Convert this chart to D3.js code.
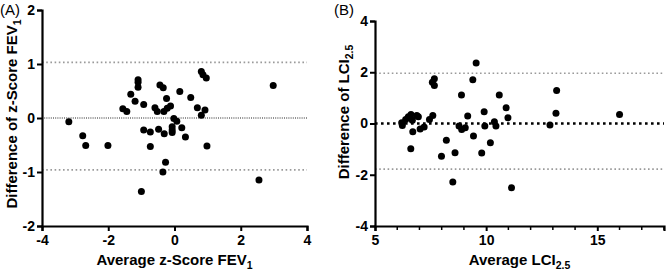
<!DOCTYPE html>
<html>
<head>
<meta charset="utf-8">
<script src="https://cdn.jsdelivr.net/npm/d3@7"></script>
<style>
  body { margin: 0; background: #fff; }
  svg { display: block; font-family: "Liberation Sans", Arial, sans-serif; }
  .tick text { font-size: 14px; font-weight: bold; fill: #000; }
  .axis-title { font-size: 15px; font-weight: bold; fill: #000; }
  .panel-tag { font-size: 15px; fill: #000; }
</style>
</head>
<body>
<script>
// Panel A: z-Score FEV1 (average, difference)
var fevAvg = [-3.19, -2.77, -2.68, -2.01, -1.56, -1.44, -1.32, -1.19, -1.10, -1.10, -1.10, -0.93,
  -0.93, -0.73, -0.73, -0.59, -0.52, -0.48, -0.44, -0.34, -0.31, -0.24, -0.32, -0.22, -0.12,
  -0.02, 0.07, -0.07, -0.07, -0.07, 0.16, 0.22, 0.33, 0.49, 0.69, 0.81, 0.86, 0.96, 0.81, 0.92,
  0.98, -0.27, -0.35, -1.00, 2.55, 2.98];
var fevDiff = [-0.07, -0.33, -0.51, -0.51, 0.17, 0.12, 0.44, 0.31, 0.71, 0.66, 0.57, 0.25,
  -0.22, -0.26, -0.53, 0.19, 0.12, -0.21, 0.61, 0.56, -0.29, 0.36, 0.12, 0.18, 0.22,
  -0.01, -0.06, -0.16, -0.22, -0.27, 0.49, -0.18, -0.35, 0.38, 0.19, 0.86, 0.80, 0.74, 0.05, 0.15,
  -0.52, -0.82, -1.00, -1.36, -1.15, 0.60];
var fevLimits = [1.03, 0, -0.96];
var fevXTicks = [-4, -2, 0, 2, 4];
var fevYTicks = [-2, -1, 0, 1, 2];

// Panel B: LCI2.5 (average, difference)
var lciAvg = [6.20, 6.23, 6.38, 6.50, 6.62, 6.68, 6.88, 6.95, 6.70, 7.03, 7.21, 7.45, 7.60,
  7.67, 7.58, 7.67, 6.61, 8.21, 7.99, 8.60, 8.50, 8.89, 8.78, 8.90, 9.06, 9.17, 9.40, 9.55,
  9.43, 9.80, 9.91, 9.94, 10.19, 10.37, 10.44, 10.59, 10.90, 10.98, 11.14, 12.87, 13.14, 13.17, 16.0];
var lciDiff = [0.03, -0.08, 0.16, 0.26, 0.35, 0.13, 0.31, 0.26, -0.32, -0.21, -0.14, 0.16, 0.31,
  1.75, 1.61, 1.48, -0.99, -0.65, -1.28, -1.14, -2.28, 1.11, -0.10, -0.23, -0.17, 0.29, 1.71, 2.36,
  -0.49, -1.15, 0.46, -0.10, -0.75, 0.07, -0.10, 1.11, 0.61, 0.22, -2.51, -0.06, 0.40, 1.29, 0.35];
var lciLimits = [1.96, 0, -1.78];
var lciXTicks = [5, 10, 15];
var lciYTicks = [-4, -2, 0, 2, 4];

var svg = d3.select("body").append("svg")
    .attr("width", 666)
    .attr("height", 270);

function drawPanel(opt) {
  var g = svg.append("g");
  var x = d3.scaleLinear().domain(opt.xDomain).range([opt.left, opt.right]);
  var y = d3.scaleLinear().domain(opt.yDomain).range([opt.bottom, opt.top]);

  // limits of agreement + mean difference
  opt.limits.forEach(function(v, i) {
    var isMean = (i === 1);
    g.append("line")
        .attr("x1", opt.left).attr("x2", opt.right)
        .attr("y1", y(v)).attr("y2", y(v))
        .attr("stroke", isMean ? opt.meanColor : "#9a9a9a")
        .attr("stroke-width", isMean ? opt.meanWidth : 1.6)
        .attr("stroke-dasharray", isMean ? opt.meanDash : "1.6,2.6");
  });

  // points
  g.append("g").selectAll("circle")
    .data(opt.xs.map(function(d, i) { return [d, opt.ys[i]]; }))
    .enter().append("circle")
      .attr("cx", function(d) { return x(d[0]); })
      .attr("cy", function(d) { return y(d[1]); })
      .attr("r", 3.5)
      .attr("fill", "#000");

  // axes
  var xAxis = d3.axisBottom(x).tickValues(opt.xTicks).tickSize(5).tickPadding(2)
      .tickFormat(d3.format("d"));
  var yAxis = d3.axisLeft(y).tickValues(opt.yTicks).tickSize(5).tickPadding(2)
      .tickFormat(d3.format("d"));

  var gx = g.append("g")
      .attr("transform", "translate(0," + opt.bottom + ")")
      .call(xAxis);
  var gy = g.append("g")
      .attr("transform", "translate(" + opt.left + ",0)")
      .call(yAxis);

  if (opt.xMinor) {
    gx.append("g").selectAll("line")
      .data(opt.xMinor)
      .enter().append("line")
        .attr("x1", function(d) { return x(d); })
        .attr("x2", function(d) { return x(d); })
        .attr("y1", 0).attr("y2", 4)
        .attr("stroke", "#000").attr("stroke-width", 1.5);
  }

  [gx, gy].forEach(function(a) {
    a.select(".domain").attr("stroke", "#000").attr("stroke-width", 2.2);
    a.selectAll(".tick line").attr("stroke", "#000").attr("stroke-width", 2);
    a.selectAll(".tick text").style("font-family", "inherit")
      .text(function(d) { return String(d).replace("-", "-"); });
  });
  gx.selectAll(".tick text").attr("dy", "0.85em");

  // x title
  var xt = g.append("text")
      .attr("class", "axis-title")
      .attr("x", (opt.left + opt.right) / 2)
      .attr("y", 265)
      .attr("text-anchor", "middle")
      .text(opt.xTitle[0]);
  xt.append("tspan").attr("font-size", "10.5px").attr("dy", 4).text(opt.xTitle[1]);

  // y title
  var yt = g.append("text")
      .attr("class", "axis-title")
      .attr("transform", "translate(" + opt.yTitleX + "," + opt.yTitleY + ") rotate(-90)")
      .attr("text-anchor", "middle")
      .text(opt.yTitle[0]);
  yt.append("tspan").attr("font-size", "10.5px").attr("dy", 4).text(opt.yTitle[1]);

  g.append("text")
      .attr("class", "panel-tag")
      .attr("x", opt.tagX)
      .attr("y", 15)
      .text(opt.tag);
}

drawPanel({
  xs: fevAvg, ys: fevDiff, limits: fevLimits,
  xDomain: [-4, 4], yDomain: [-2, 2],
  xTicks: fevXTicks, yTicks: fevYTicks,
  left: 42, right: 307, top: 10, bottom: 226,
  meanColor: "#222", meanWidth: 1, meanDash: "1,1.2",
  xTitle: ["Average z-Score FEV", "1"],
  yTitle: ["Difference of z-Score FEV", "1"],
  yTitleX: 17, yTitleY: 114,
  tag: "(A)", tagX: 0
});

drawPanel({
  xs: lciAvg, ys: lciDiff, limits: lciLimits,
  xDomain: [5, 18], yDomain: [-4, 4],
  xTicks: lciXTicks, yTicks: lciYTicks,
  xMinor: d3.range(6, 19).filter(function(d) { return d % 5 !== 0; }),
  left: 375, right: 664, top: 21, bottom: 226,
  meanColor: "#000", meanWidth: 2.6, meanDash: "2.6,3.4",
  xTitle: ["Average LCI", "2.5"],
  yTitle: ["Difference of LCI", "2.5"],
  yTitleX: 349, yTitleY: 112,
  tag: "(B)", tagX: 334
});
</script>
</body>
</html>
